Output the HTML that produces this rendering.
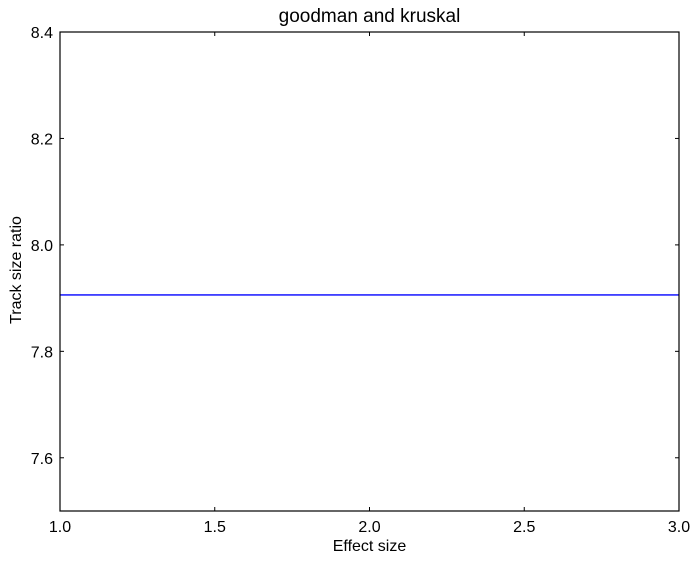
<!DOCTYPE html>
<html><head><meta charset="utf-8"><style>body{margin:0;background:#fff}svg{display:block;font-family:"Liberation Sans",Arial,sans-serif}</style></head>
<body>
<svg id="c" width="700" height="564"></svg>
<script>
const xTicks=[1.0,1.5,2.0,2.5,3.0];
const yTicks=[7.6,7.8,8.0,8.2,8.4];
const seriesX=[1.0,3.0];
const seriesY=[7.906,7.906];
const L=60,R=679,T=32,B=511,x0=1,x1=3,y0=7.5,y1=8.4;
const sx=v=>L+(v-x0)/(x1-x0)*(R-L), sy=v=>B-(v-y0)/(y1-y0)*(B-T);
const s=document.getElementById('c'),NS='http://www.w3.org/2000/svg';
function mk(t,a,p){const e=document.createElementNS(NS,t);for(const k in a)e.setAttribute(k,a[k]);(p||s).appendChild(e);return e;}
const line=mk('polyline',{points:seriesX.map((x,i)=>sx(x)+','+sy(seriesY[i])).join(' '),fill:'none',stroke:'#0000ff','stroke-width':1.3});


xTicks.forEach(v=>{const x=sx(v);
mk('line',{x1:x,x2:x,y1:B,y2:B-4,stroke:'#000'});mk('line',{x1:x,x2:x,y1:T,y2:T+4,stroke:'#000'});
const t=mk('text',{x:x,y:B+21,'text-anchor':'middle','font-size':'16px'});t.textContent=v.toFixed(1);

});
yTicks.forEach(v=>{const y=sy(v);
mk('line',{x1:L,x2:L+4,y1:y,y2:y,stroke:'#000'});mk('line',{x1:R,x2:R-4,y1:y,y2:y,stroke:'#000'});
const t=mk('text',{x:L-7,y:y+6,'text-anchor':'end','font-size':'16px'});t.textContent=v.toFixed(1);

});
const f=mk('rect',{x:L,y:T,width:R-L,height:B-T,fill:'none',stroke:'#000','stroke-width':1.2});


</script>
<div style="position:absolute;left:0;top:0;width:700px;height:564px;pointer-events:none;font-family:'Liberation Sans',Arial,sans-serif">
<div style="position:absolute;left:60px;width:619px;top:6px;text-align:center;font-size:19px">goodman and kruskal</div>
<div style="position:absolute;left:60px;width:619px;top:538px;text-align:center;font-size:16px">Effect size</div>
<div style="position:absolute;left:-63px;width:160px;top:261px;text-align:center;font-size:16px;transform:rotate(-90deg)">Track size ratio</div>
</div>
</body></html>
